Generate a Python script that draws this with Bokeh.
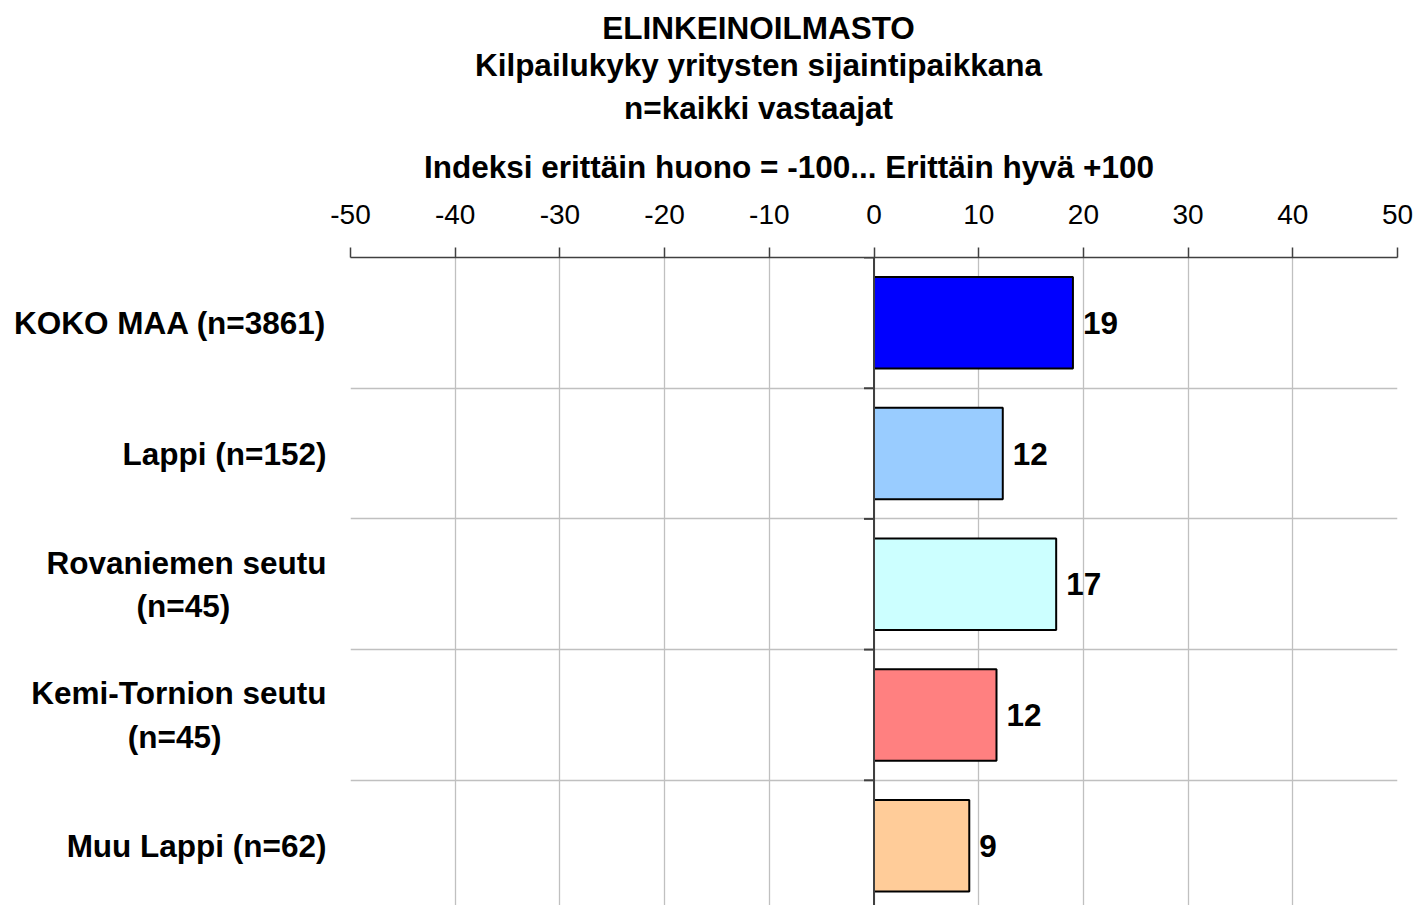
from bokeh.plotting import figure
from bokeh.layouts import column
from bokeh.models import Range1d, FixedTicker, LabelSet, ColumnDataSource, Span
from bokeh.core.properties import value
from bokeh.embed import file_html
from bokeh.resources import INLINE

# ---------------- data ----------------
categories = [
    "KOKO MAA (n=3861)",
    "Lappi (n=152)",
    "Rovaniemen seutu\n(n=45)",
    "Kemi-Tornion seutu\n(n=45)",
    "Muu Lappi (n=62)",
]
values = [19.0, 12.3, 17.4, 11.7, 9.1]
colors = ["#0000FF", "#99CCFF", "#CCFFFF", "#FF8080", "#FFCC99"]
x_ticks = [-50, -40, -30, -20, -10, 0, 10, 20, 30, 40, 50]
title_lines = ["ELINKEINOILMASTO", "Kilpailukyky yritysten sijaintipaikkana", "n=kaikki vastaajat"]
axis_title = "Indeksi erittäin huono = -100... Erittäin hyvä +100"

# ---------------- layout ----------------
FONT = "Liberation Sans"
BOLD_SIZE = "31.5px"
W = 1416
H_TOP = 187                      # header strip (titles)
H_MAIN = 905 - H_TOP
BL, BR, BT = 350, 19, 70
FW = W - BL - BR
FH = H_MAIN - BT
BAND_PX = 130.7
Y_EXT = FH / BAND_PX             # visible number of category bands (last one cut)
n = len(categories)
X0, X1 = x_ticks[0], x_ticks[-1]
TEXT_SHIFT = 12                  # measured offset of the header text anchor


def px_to_x(px):
    """page pixel column -> data x (both figures share the same frame columns)"""
    return X0 + (px - BL) * (X1 - X0) / FW


# second line of a two-line label is centred under the first one
def centre_lines(lab, pad):
    if "\n" not in lab:
        return lab
    a, b = lab.split("\n")
    return a + "\n" + b + "\u00a0" * pad


label_pad = [0, 0, 11, 12, 0]
y_labels = [centre_lines(c, k) for c, k in zip(categories, label_pad)]

# ---------------- header (titles) ----------------
head = figure(width=W, height=H_TOP, output_backend="svg", toolbar_location=None,
              title=None,
              x_range=Range1d(X0, X1), y_range=Range1d(H_TOP, 0),
              x_axis_location=None, y_axis_location=None,
              min_border_left=BL, min_border_right=BR,
              min_border_top=0, min_border_bottom=0)
head.grid.visible = False
head.outline_line_color = None
head.text(x=[px_to_x(758)] * len(title_lines),
          y=[b - TEXT_SHIFT for b in (39, 76, 119)], text=title_lines,
          text_align="center", text_baseline="alphabetic",
          text_font=value(FONT), text_font_size=BOLD_SIZE,
          text_font_style="bold", text_color="black")
head.text(x=[px_to_x(788.5)], y=[178 - TEXT_SHIFT], text=[axis_title],
          text_align="center", text_baseline="alphabetic",
          text_font=value(FONT), text_font_size=BOLD_SIZE,
          text_font_style="bold", text_color="black")

# ---------------- main chart ----------------
centers = [i + 0.5 for i in range(n)]
bounds = [float(i) for i in range(n)]

p = figure(width=W, height=H_MAIN, output_backend="svg", toolbar_location=None,
           x_range=Range1d(X0, X1), y_range=Range1d(Y_EXT, 0),
           x_axis_location="above", min_border_left=BL, min_border_right=BR,
           min_border_top=BT, min_border_bottom=0)
p.outline_line_color = None

# grids
p.xgrid.ticker = FixedTicker(ticks=x_ticks)
p.xgrid.grid_line_color = "#c0c0c0"
p.xgrid.grid_line_width = 1.3
p.ygrid.ticker = FixedTicker(ticks=bounds[1:])
p.ygrid.grid_line_color = "#c0c0c0"
p.ygrid.grid_line_width = 1.3

# x axis (top)
xa = p.xaxis[0]
xa.ticker = FixedTicker(ticks=x_ticks)
xa.major_label_overrides = {t: str(t) for t in x_ticks}
xa.axis_line_color = "#404040"
xa.axis_line_width = 1.5
xa.major_tick_line_color = "#404040"
xa.major_tick_line_width = 1.5
xa.major_tick_out = 10
xa.major_tick_in = 0
xa.minor_tick_line_color = None
xa.major_label_text_font = FONT
xa.major_label_text_font_size = "28px"
xa.major_label_text_color = "black"
xa.major_label_standoff = 24

# y axis (category labels)
ya = p.yaxis[0]
ya.ticker = FixedTicker(ticks=centers)
ya.major_label_overrides = {c: lab for c, lab in zip(centers, y_labels)}
ya.axis_line_color = None
ya.major_tick_line_color = None
ya.minor_tick_line_color = None
ya.major_label_text_font = FONT
ya.major_label_text_font_size = BOLD_SIZE
ya.major_label_text_font_style = "bold"
ya.major_label_text_color = "black"
ya.major_label_standoff = 18

# bars
src = ColumnDataSource(dict(
    y=centers, v=values, c=colors,
    lab=[str(int(round(v))) for v in values],
))
p.hbar(y="y", left=0, right="v", height=0.7, fill_color="c",
       line_color="black", line_width=2, source=src)

# zero line with small ticks at category boundaries
p.add_layout(Span(location=0, dimension="height", line_color="#404040", line_width=2))
tick_len = 10 * (X1 - X0) / FW
p.segment(x0=[-tick_len] * n, x1=[0] * n, y0=bounds, y1=bounds,
          line_color="#404040", line_width=2)

# value labels
p.add_layout(LabelSet(x="v", y="y", text="lab", source=src, x_offset=10,
                      text_font=value(FONT), text_font_size=BOLD_SIZE,
                      text_font_style="bold", text_baseline="middle",
                      text_color="black"))

layout = column(head, p, spacing=0)
open("out.html", "w").write(file_html(layout, INLINE))
